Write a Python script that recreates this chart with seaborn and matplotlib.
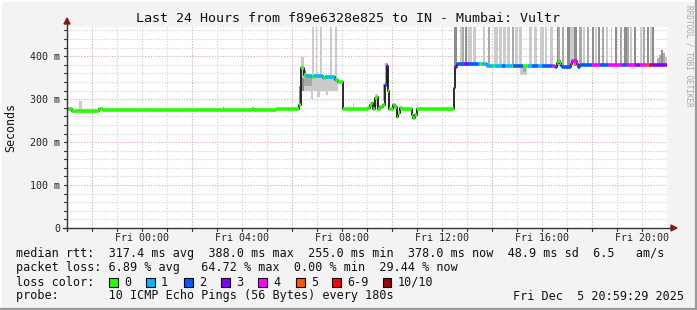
import matplotlib
matplotlib.use("Agg")
import matplotlib.pyplot as plt
from matplotlib.patches import Rectangle, Polygon
from matplotlib.lines import Line2D
import pandas as pd
import seaborn as sns

# ---------------- data (time in hours relative to Fri 00:00) ----------------
t_start = -3.008
t_end = 20.992

# median rtt step segments: start time, value (ms), loss class index
med_t = [-3.01, -2.81, -1.73, -1.57, 4.39, 4.47, 5.35, 5.87, 6.27, 6.35, 6.47,
         6.55, 6.79, 6.87, 7.23, 7.31, 7.71, 7.83, 8.03, 9.03, 9.11, 9.19, 9.23,
         9.31, 9.39, 9.43, 9.51, 9.63, 9.71, 9.79, 9.83, 9.87, 10.03, 10.11,
         10.19, 10.23, 10.31, 10.39, 10.79, 10.83, 10.91, 10.99, 12.47, 12.51,
         12.59, 12.87, 13.03, 13.43, 13.51, 13.59, 13.79, 14.03, 14.11, 14.39,
         14.51, 14.79, 14.83, 15.23, 15.43, 15.59, 15.83, 15.99, 16.39, 16.51,
         16.59, 16.63, 16.71, 16.75, 16.79, 17.15, 17.19, 17.39, 17.43, 17.51,
         17.99, 18.31, 18.63, 19.19, 19.39, 19.71, 19.91, 20.19, 20.27, 20.39,
         20.71]
med_v = [277, 273, 277, 274, 277, 274, 276, 278, 286, 372, 357,
         353, 352, 354, 350, 352, 345, 340, 278, 280, 287, 290, 278,
         302, 306, 278, 282, 287, 333, 378, 318, 276, 287, 282,
         259, 268, 280, 277, 263, 256, 263, 276, 326, 376,
         381, 381, 381, 381, 381, 381, 378, 378, 378, 378,
         378, 378, 378, 378, 378, 378, 378, 378, 378, 376,
         384, 388, 385, 378, 376, 383, 388, 383, 375, 379,
         379, 379, 379, 379, 379, 379, 379, 379, 379, 379,
         379]
med_loss = [0, 0, 0, 0, 0, 0, 0, 0, 0, 0, 0,
            1, 0, 1, 0, 1, 0, 0, 0, 0, 0, 0, 0,
            0, 0, 0, 0, 0, 2, 3, 0, 0, 0, 0,
            0, 0, 0, 0, 0, 0, 0, 0, 2, 3,
            2, 3, 2, 1, 0, 1, 1, 0, 1, 2,
            1, 0, 2, 0, 1, 2, 1, 2, 4, 2,
            0, 0, 0, 2, 2, 4, 4, 4, 2, 2,
            4, 2, 4, 2, 4, 3, 4, 5, 6, 3,
            3]

# smoke (spread of the individual pings): start, end, low, high, shade class
smoke_t0 = [-2.53, 3.23, 6.27, 6.35, 6.35, 6.47, 6.47, 6.75, 7.00, 7.35,
            6.79, 6.95, 7.11, 7.51, 7.71, 8.43, 9.31, 9.63, 9.71,
            12.47, 12.71, 12.80, 12.91, 13.02, 13.23, 13.64, 13.82, 14.08, 14.27,
            14.44, 14.59, 14.78, 14.91, 15.07, 15.11, 15.23, 15.47, 15.66, 15.92,
            16.11, 16.31, 16.59, 16.64, 16.80, 16.98, 17.11, 17.28, 17.47, 17.64,
            17.79, 17.98, 18.11, 18.24, 18.38, 18.54, 18.75, 18.91, 19.11, 19.27,
            19.39, 19.51, 19.68, 19.91, 20.04, 20.18, 20.31, 20.40, 20.58, 20.66,
            20.74, 20.82, 20.90]
smoke_t1 = [-2.41, 3.27, 6.35, 6.55, 6.47, 7.83, 6.79, 6.83, 7.10, 7.45,
            6.87, 7.00, 7.19, 7.60, 7.80, 8.47, 9.43, 9.71, 9.83,
            12.59, 12.80, 12.88, 12.99, 13.18, 13.34, 13.71, 13.90, 14.22, 14.40,
            14.54, 14.72, 14.86, 15.02, 15.18, 15.39, 15.35, 15.60, 15.78, 16.06,
            16.19, 16.44, 16.64, 16.70, 16.86, 17.11, 17.28, 17.39, 17.58, 17.71,
            17.87, 18.08, 18.20, 18.31, 18.46, 18.64, 18.80, 18.98, 19.18, 19.39,
            19.47, 19.58, 19.76, 20.00, 20.11, 20.27, 20.38, 20.47, 20.66, 20.74,
            20.82, 20.90, 20.99]
smoke_lo = [274, 274, 286, 320, 350, 318, 330, 300, 305, 310,
            350, 350, 350, 350, 350, 277, 285, 295, 330,
            376, 378, 378, 378, 378, 378, 378, 378, 378, 378,
            378, 378, 378, 378, 378, 357, 364, 378, 378, 378,
            378, 378, 378, 378, 378, 378, 378, 378, 378, 378,
            378, 378, 378, 378, 378, 378, 378, 378, 378, 378,
            378, 378, 378, 378, 378, 378, 378, 378, 378, 378,
            378, 378, 378]
smoke_hi = [296, 281, 330, 368, 398, 352, 352, 330, 330, 335,
            480, 480, 480, 480, 480, 291, 312, 335, 385,
            480, 480, 480, 480, 480, 480, 480, 480, 480, 480,
            480, 480, 480, 480, 480, 378, 378, 480, 480, 480,
            480, 480, 480, 480, 480, 480, 480, 480, 480, 480,
            480, 480, 480, 480, 480, 480, 480, 480, 480, 480,
            480, 480, 480, 480, 480, 480, 480, 480, 396, 403,
            415, 408, 398]
smoke_shade = [0, 2, 2, 2, 0, 0, 1, 0, 0, 0,
               0, 0, 0, 0, 0, 0, 0, 1, 1,
               2, 0, 1, 2, 0, 0, 0, 1, 0, 0,
               0, 0, 1, 0, 0, 0, 1, 0, 0, 0,
               0, 0, 2, 1, 1, 2, 0, 2, 1, 0,
               1, 2, 0, 2, 1, 0, 0, 2, 1, 2,
               1, 0, 2, 0, 1, 2, 0, 2, 1, 1,
               2, 1, 0]
shade_colors = ['#cbcbcb', '#a9a9a9', '#8d8d8d']

x_tick_hours = [0, 4, 8, 12, 16, 20]
x_tick_labels = ['Fri 00:00', 'Fri 04:00', 'Fri 08:00', 'Fri 12:00', 'Fri 16:00', 'Fri 20:00']
y_ticks = [0, 100, 200, 300, 400]
y_tick_labels = ['0', '100 m', '200 m', '300 m', '400 m']

loss_labels = ['0', '1', '2', '3', '4', '5', '6-9', '10/10']
loss_colors = ['#26ff00', '#00b8ff', '#0059ff', '#7e00ff', '#ff00ff', '#ff5500', '#ff0000', '#a10000']

title = 'Last 24 Hours from f89e6328e825 to IN - Mumbai: Vultr'
line_rtt = 'median rtt:  317.4 ms avg  388.0 ms max  255.0 ms min  378.0 ms now  48.9 ms sd  6.5   am/s'
line_loss = 'packet loss: 6.89 % avg   64.72 % max  0.00 % min  29.44 % now'
line_probe = 'probe:       10 ICMP Echo Pings (56 Bytes) every 180s'
stamp = 'Fri Dec  5 20:59:29 2025'

# ---------------- drawing ----------------
sns.set_style('white')
plt.rcParams['font.family'] = ['DejaVu Sans Mono', 'DejaVu Sans']

W, H = 697, 310
fig = plt.figure(figsize=(W / 100, H / 100), dpi=100)
fig.patch.set_facecolor('#f3f3f3')

def fx(px):
    return px / W

def fy(py):
    return 1 - py / H

YMAX = 468
ax = fig.add_axes([fx(67), fy(228), 600 / W, (228 - 27) / H])
ax.set_facecolor('white')
ax.set_xlim(t_start, t_end)
ax.set_ylim(0, YMAX)
for s in ax.spines.values():
    s.set_visible(False)

# grid
minor_col = '#cfcfcf'
major_col = '#eaa5a5'
for h in range(-3, 21):
    if (h + 2) % 4 != 0:
        ax.axvline(h, color=minor_col, lw=0.8, ls=(0, (1, 1.5)), zorder=0)
for h in [-2, 2, 6, 10, 14, 18]:
    ax.axvline(h, color=major_col, lw=0.8, ls=(0, (1, 1.5)), zorder=0)
for v in range(20, YMAX, 20):
    if v % 100 != 0:
        ax.axhline(v, color=minor_col, lw=0.8, ls=(0, (1, 1.5)), zorder=0)
for v in y_ticks[1:]:
    ax.axhline(v, color=major_col, lw=0.8, ls=(0, (1, 1.5)), zorder=0)

# smoke
smoke = pd.DataFrame({'t0': smoke_t0, 't1': smoke_t1, 'lo': smoke_lo,
                      'hi': smoke_hi, 'shade': smoke_shade})
ax.bar(smoke['t0'], smoke['hi'] - smoke['lo'], bottom=smoke['lo'],
       width=smoke['t1'] - smoke['t0'], align='edge',
       color=[shade_colors[s] for s in smoke['shade']], linewidth=0, zorder=1)

# median line (black steps) via seaborn
med = pd.DataFrame({'t': med_t + [t_end], 'v': med_v + [med_v[-1]]})
sns.lineplot(data=med, x='t', y='v', drawstyle='steps-post', color='#1a1a1a',
             lw=1.3, estimator=None, ax=ax, zorder=2)

# loss-coloured median segments
ends = med_t[1:] + [t_end]
for t0, t1, v, l in zip(med_t, ends, med_v, med_loss):
    ax.hlines(v, t0, t1, color=loss_colors[l], lw=2.6, zorder=3)

ax.set_xlabel('')
ax.set_ylabel('')
ax.set_xticks(x_tick_hours)
ax.set_xticklabels(x_tick_labels, fontsize=7.2, color='#222222')
ax.set_yticks(y_ticks)
ax.set_yticklabels(y_tick_labels, fontsize=7.2, color='#222222')
ax.tick_params(axis='both', length=0, pad=5)
ax.tick_params(axis='x', pad=3.5)

# axes with arrows
axis_col = '#333333'
arrow_col = '#8b1a1a'
fig.add_artist(Line2D([fx(67), fx(67)], [fy(231), fy(22)], color=axis_col, lw=1.0))
fig.add_artist(Line2D([fx(63), fx(672)], [fy(228), fy(228)], color=axis_col, lw=1.0))
fig.add_artist(Polygon([[fx(64), fy(24)], [fx(70), fy(24)], [fx(67), fy(18)]],
                       closed=True, color=arrow_col))
fig.add_artist(Polygon([[fx(671), fy(225)], [fx(671), fy(231)], [fx(677), fy(228)]],
                       closed=True, color=arrow_col))
# small tick marks
for h in range(-3, 21):
    xp = 67 + (h - t_start) * 25
    if 67 < xp < 667:
        fig.add_artist(Line2D([fx(xp), fx(xp)], [fy(228), fy(231)], color=axis_col, lw=0.8))
for v in range(0, YMAX, 20):
    yp = 228 - v * (228 - 27) / YMAX
    fig.add_artist(Line2D([fx(64), fx(67)], [fy(yp), fy(yp)], color=axis_col, lw=0.8))

# titles
fig.text(fx(348), fy(18), title, ha='center', va='center', fontsize=9.6, color='#111111')
fig.text(fx(11), fy(127), 'Seconds', rotation=90, ha='center', va='center',
         fontsize=8.4, color='#111111')
fig.text(fx(689), fy(5), 'RRDTOOL / TOBI OETIKER', rotation=270, ha='center', va='top',
         fontsize=5.6, color='#a8a8a8')

# legend block
fs = 8.5
fig.text(fx(16), fy(254), line_rtt, ha='left', va='center', fontsize=fs, color='#111111')
fig.text(fx(16), fy(268), line_loss, ha='left', va='center', fontsize=fs, color='#111111')
fig.text(fx(16), fy(282), 'loss color:', ha='left', va='center', fontsize=fs, color='#111111')
sq_x = [109, 146, 184, 221, 258, 296, 332, 383]
for xp, lab, col in zip(sq_x, loss_labels, loss_colors):
    fig.add_artist(Rectangle((fx(xp), fy(286.5)), 8.5 / W, 8.5 / H, facecolor=col,
                             edgecolor='black', lw=0.8))
    fig.text(fx(xp + 15), fy(282), lab, ha='left', va='center', fontsize=fs, color='#111111')
fig.text(fx(16), fy(296), line_probe, ha='left', va='center', fontsize=fs, color='#111111')
fig.text(fx(684), fy(296), stamp, ha='right', va='center', fontsize=fs, color='#111111')

# frame
fig.add_artist(Line2D([0, 1], [fy(0.5), fy(0.5)], color='#fdfdfd', lw=1.5))
fig.add_artist(Line2D([fx(0.5), fx(0.5)], [0, 1], color='#fdfdfd', lw=1.5))
fig.add_artist(Line2D([0, 1], [fy(309), fy(309)], color='#9a9a9a', lw=1.6))
fig.add_artist(Line2D([fx(696), fx(696)], [0, 1], color='#9a9a9a', lw=1.6))

fig.savefig('out.png', dpi=100, facecolor=fig.get_facecolor())
